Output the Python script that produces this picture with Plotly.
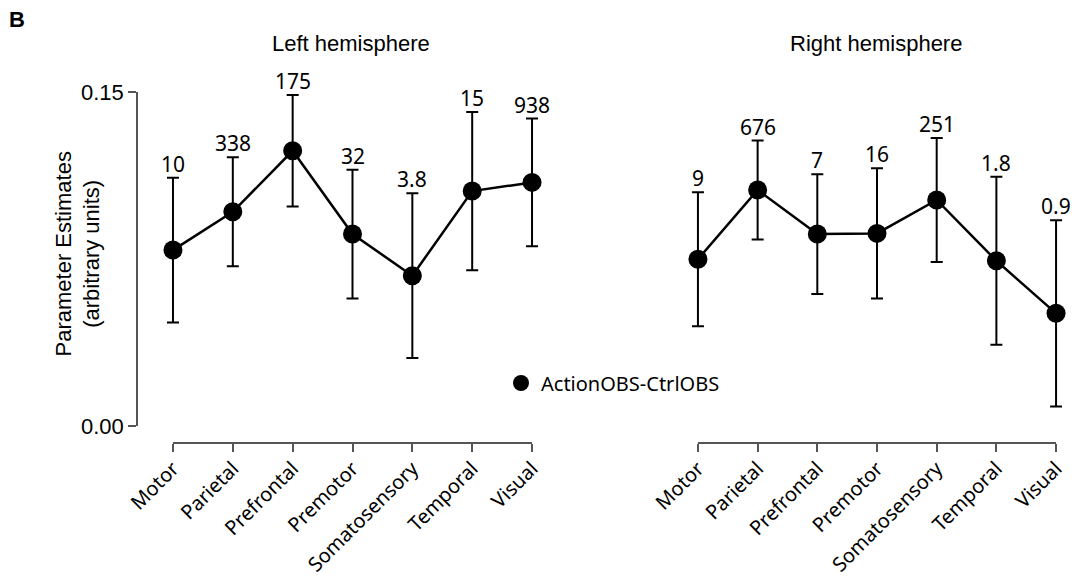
import plotly.graph_objects as go

regions = ["Motor", "Parietal", "Prefrontal", "Premotor", "Somatosensory", "Temporal", "Visual"]

left_values = [0.0790, 0.0962, 0.1236, 0.0862, 0.0675, 0.1055, 0.1094]
left_errors = [0.0325, 0.0245, 0.0250, 0.0289, 0.0370, 0.0355, 0.0287]
left_labels = ["10", "338", "175", "32", "3.8", "15", "938"]

right_values = [0.0749, 0.1060, 0.0862, 0.0865, 0.1015, 0.0742, 0.0506]
right_errors = [0.0301, 0.0222, 0.0269, 0.0292, 0.0278, 0.0377, 0.0418]
right_labels = ["9", "676", "7", "16", "251", "1.8", "0.9"]

y_ticks = [0.0, 0.15]
series_name = "ActionOBS-CtrlOBS"

W, H = 1072, 576
FONT = "Noto Sans"
ARIAL = "Liberation Sans"
AX = "#555555"

def px_x(p):
    return p / W

def px_y(p):
    return 1 - p / H

fig = go.Figure()

idx = list(range(len(regions)))

for vals, errs, xa, ya in [
    (left_values, left_errors, "x", "y"),
    (right_values, right_errors, "x2", "y2"),
]:
    fig.add_trace(go.Scatter(
        x=idx, y=vals, xaxis=xa, yaxis=ya,
        mode="lines+markers", name=series_name, showlegend=False,
        line=dict(color="black", width=2.5),
        marker=dict(color="black", size=19),
        error_y=dict(type="data", array=errs, visible=True, color="black",
                     thickness=2, width=6),
        cliponaxis=False,
    ))

# legend entry (marker only)
fig.add_trace(go.Scatter(
    x=[None], y=[None], mode="markers", name=series_name, showlegend=True,
    marker=dict(color="black", size=19),
))

annotations = []
for vals, errs, labs, xa, ya in [
    (left_values, left_errors, left_labels, "x", "y"),
    (right_values, right_errors, right_labels, "x2", "y2"),
]:
    for k, (v, e, t) in enumerate(zip(vals, errs, labs)):
        annotations.append(dict(
            x=k, y=v + e, xref=xa, yref=ya, text=t, showarrow=False,
            xanchor="center", yanchor="bottom", yshift=-2,
            font=dict(family=FONT, size=21, color="black"),
        ))

annotations += [
    dict(x=px_x(351), y=px_y(44), xref="paper", yref="paper", text="Left hemisphere",
         xanchor="center", yanchor="middle",
         showarrow=False, font=dict(family=ARIAL, size=22, color="black")),
    dict(x=px_x(876), y=px_y(44), xref="paper", yref="paper", text="Right hemisphere",
         xanchor="center", yanchor="middle",
         showarrow=False, font=dict(family=ARIAL, size=22, color="black")),
    dict(x=px_x(7), y=px_y(19), xref="paper", yref="paper", text="<b>B</b>",
         showarrow=False, xanchor="left", yanchor="middle",
         font=dict(family=ARIAL, size=22, color="black")),
    dict(x=px_x(77.5), y=px_y(254), xref="paper", yref="paper",
         text="Parameter Estimates<br>(arbitrary units)", textangle=-90,
         xanchor="center", yanchor="middle",
         showarrow=False, font=dict(family=ARIAL, size=22, color="black")),
]

x_axis_y = px_y(443)
shapes = [
    dict(type="line", xref="x", yref="paper", x0=0, x1=len(regions) - 1,
         y0=x_axis_y, y1=x_axis_y, line=dict(color=AX, width=2)),
    dict(type="line", xref="x2", yref="paper", x0=0, x1=len(regions) - 1,
         y0=x_axis_y, y1=x_axis_y, line=dict(color=AX, width=2)),
]

ydom = [px_y(426), px_y(92)]
xcommon = dict(
    tickmode="array", tickvals=idx, ticktext=regions, tickangle=-45,
    range=[-0.2, 6.2], showgrid=False, zeroline=False, showline=False,
    ticks="outside", ticklen=8, tickwidth=1.5, tickcolor=AX,
    tickfont=dict(family=FONT, size=20, color="black"),
    ticklabelstandoff=-3,
    anchor="free", position=x_axis_y, automargin=False,
)

fig.update_layout(
    width=W, height=H,
    margin=dict(l=0, r=0, t=0, b=0, autoexpand=False),
    paper_bgcolor="white", plot_bgcolor="white",
    xaxis=dict(domain=[px_x(161), px_x(544)], **xcommon),
    xaxis2=dict(domain=[px_x(686), px_x(1068)], **xcommon),
    yaxis=dict(domain=ydom, range=[0, 0.15], anchor="free", position=px_x(137),
               tickvals=y_ticks, tickformat=".2f", showgrid=False, zeroline=False,
               showline=True, linecolor=AX, linewidth=1.5,
               ticks="outside", ticklen=8, tickcolor=AX, tickwidth=1.5,
               tickfont=dict(family=ARIAL, size=22, color="black"),
               automargin=False),
    yaxis2=dict(domain=ydom, range=[0, 0.15], anchor="x2", visible=False, automargin=False),
    legend=dict(x=px_x(501), y=px_y(383), xanchor="left", yanchor="middle",
                bgcolor="rgba(0,0,0,0)", font=dict(family=FONT, size=20, color="black")),
    annotations=annotations,
    shapes=shapes,
    showlegend=True,
)

fig.write_html("out.html")
